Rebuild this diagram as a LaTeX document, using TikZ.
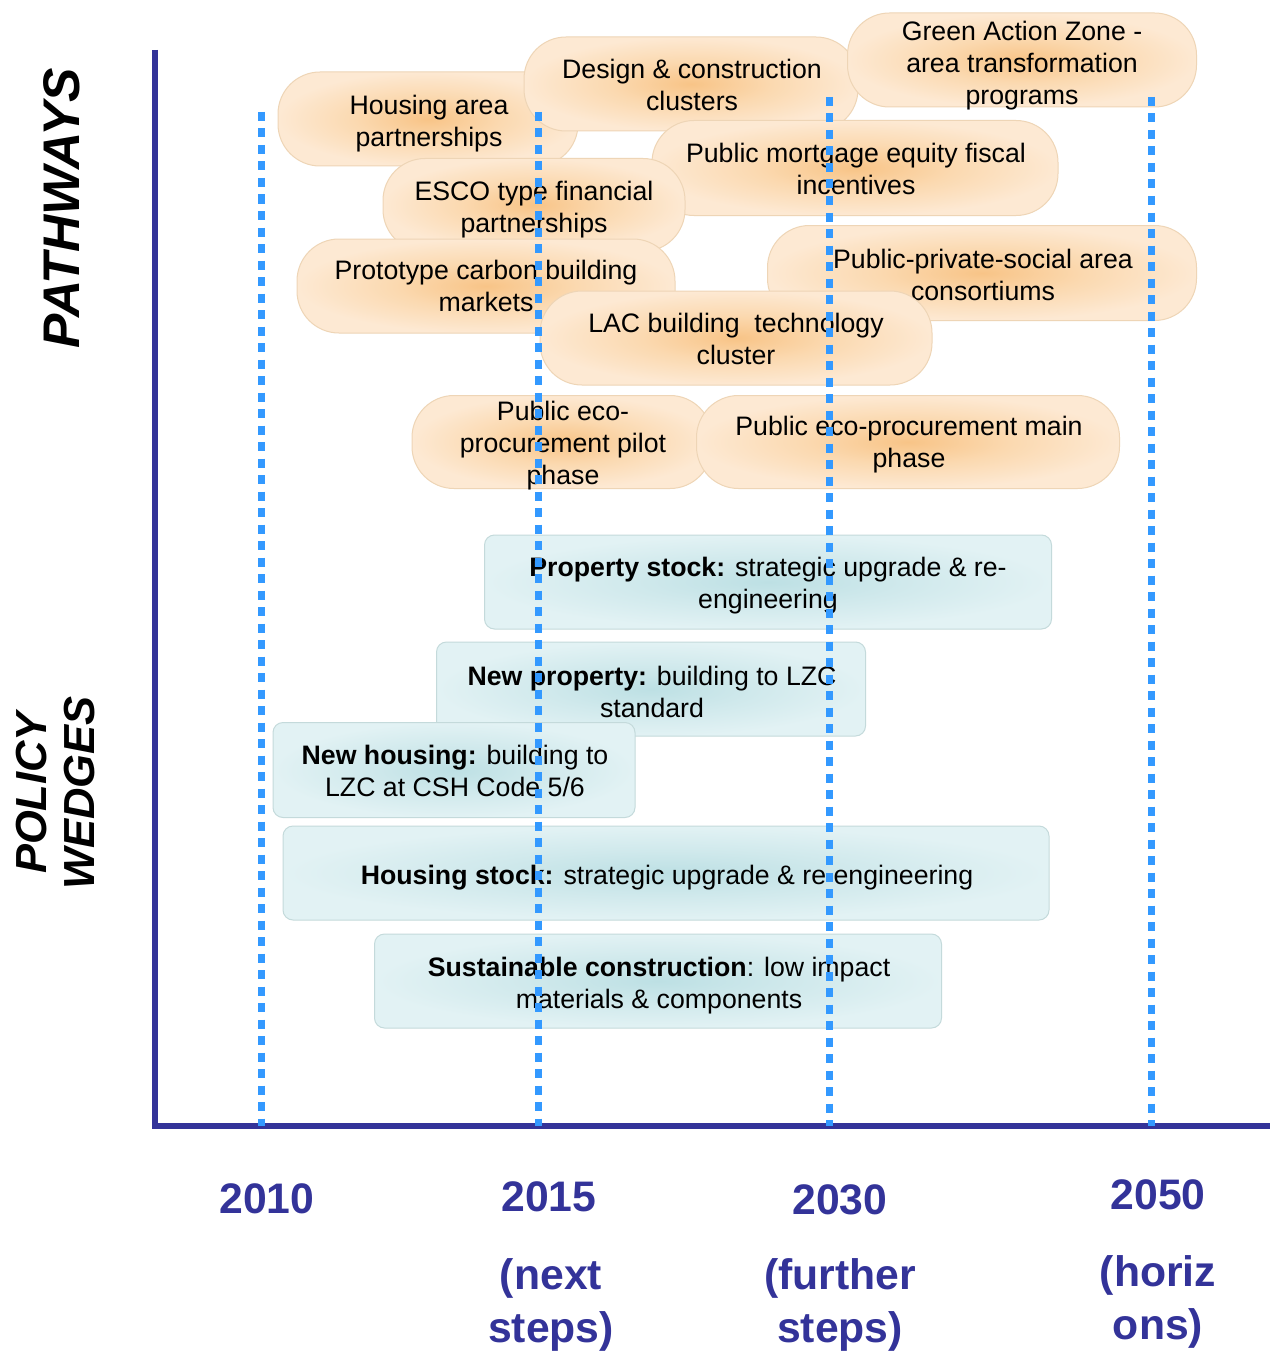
\documentclass[tikz,border=0pt]{standalone}
\usepackage{fontspec}
\setmainfont{Liberation Sans}
\definecolor{axisblue}{HTML}{333399}
\definecolor{dotblue}{HTML}{3399FF}
\definecolor{pin}{HTML}{F8C487}
\definecolor{pmid}{HTML}{FBD9B0}
\definecolor{pout}{HTML}{FDE9D3}
\definecolor{pline}{HTML}{EED5B6}
\definecolor{bin}{HTML}{BDE0E4}
\definecolor{bmid}{HTML}{D0E9EC}
\definecolor{bout}{HTML}{E2F2F4}
\definecolor{bline}{HTML}{C4DADB}
\pgfdeclareradialshading{peach}{\pgfpoint{0bp}{0bp}}{color(0bp)=(pin); color(12bp)=(pmid); color(25bp)=(pout); color(50bp)=(pout)}
\pgfdeclareradialshading{teal}{\pgfpoint{0bp}{0bp}}{color(0bp)=(bin); color(12bp)=(bmid); color(25bp)=(bout); color(50bp)=(bout)}
\tikzset{
  pathbox/.style={rectangle, rounded corners=42pt, shading=peach, draw=pline, line width=1pt, inner sep=0pt},
  wedgebox/.style={rectangle, rounded corners=10pt, shading=teal, draw=bline, line width=1pt, inner sep=0pt},
  boxtext/.style={align=center, inner sep=0pt, font=\fontsize{26.7}{32}\selectfont},
  dotline/.style={dotblue, line width=7pt, dash pattern=on 9pt off 7.5pt},
  axisline/.style={axisblue, line width=6pt},
  yearlab/.style={axisblue, font=\fontsize{42.7}{53}\selectfont\bfseries, align=center},
  sidelab/.style={rotate=90, align=center, black},
}
\begin{document}
\begin{tikzpicture}[x=1pt, y=-1pt]
\useasboundingbox[fill=white] (0,0) rectangle (1270,1351);

% axes
\coordinate (ytop) at (155,50);
\coordinate (origin) at (155,1126);
\coordinate (xend) at (1270,1126);
\draw[axisline] (ytop) -- (origin) -- (xend);

% pathways
\node[pathbox, minimum width=300pt, minimum height=94pt] (hap) at (428,119) {};
\node[boxtext] (hapt) at (429,124) {Housing area\\partnerships};
\node[pathbox, minimum width=334pt, minimum height=94pt] (dcc) at (691,84) {};
\node[boxtext] (dcct) at (692,85) {Design \& construction\\clusters};
\node[pathbox, minimum width=349pt, minimum height=94pt] (gaz) at (1022,60) {};
\node[boxtext] (gazt) at (1022,66) {Green Action Zone -\\area transformation\\programs};
\node[pathbox, minimum width=406pt, minimum height=95pt] (pme) at (855,168) {};
\node[boxtext] (pmet) at (856,169) {Public mortgage equity fiscal\\incentives};
\node[pathbox, minimum width=302pt, minimum height=93pt] (esco) at (534,205) {};
\node[boxtext] (escot) at (534,210) {ESCO type financial\\partnerships};
\node[pathbox, minimum width=378pt, minimum height=94pt] (pcb) at (486,286) {};
\node[boxtext] (pcbt) at (486,286) {Prototype carbon building\\markets};
\node[pathbox, minimum width=429pt, minimum height=95pt] (pps) at (982,273) {};
\node[boxtext] (ppst) at (983,275) {Public-private-social area\\consortiums};
\node[pathbox, minimum width=392pt, minimum height=94pt] (lac) at (736,338) {};
\node[boxtext] (lact) at (736,339) {LAC building\ \ technology\\cluster};
\node[pathbox, minimum width=300pt, minimum height=93pt] (pep) at (562,442) {};
\node[boxtext] (pept) at (563,446) {Public eco-\\procurement pilot\\phase};
\node[pathbox, minimum width=423pt, minimum height=93pt] (pem) at (908,442) {};
\node[boxtext] (pemt) at (909,445) {Public eco-procurement main\\phase};

% policy wedges
\node[wedgebox, minimum width=567pt, minimum height=94pt] (ps) at (768,582) {};
\node[boxtext] (pst) at (768,586) {\textbf{Property stock:} strategic upgrade \& re-\\engineering};
\node[wedgebox, minimum width=429pt, minimum height=94pt] (np) at (651,689) {};
\node[boxtext] (npt) at (652,692) {\textbf{New property:} building to LZC\\standard};
\node[wedgebox, minimum width=362pt, minimum height=95pt] (nh) at (454,770) {};
\node[boxtext] (nht) at (455,771) {\textbf{New housing:} building to\\LZC at CSH Code 5/6};
\node[wedgebox, minimum width=766pt, minimum height=94pt] (hs) at (666,873) {};
\node[boxtext] (hst) at (667,878) {\textbf{Housing stock:} strategic upgrade \& re engineering};
\node[wedgebox, minimum width=567pt, minimum height=94pt] (sc) at (658,981) {};
\node[boxtext] (sct) at (659,986) {\textbf{Sustainable construction}: low impact\\materials \& components};

% time lines
\coordinate (t2010) at (261,112); \coordinate (b2010) at (261,1126);
\coordinate (t2015) at (538,112); \coordinate (b2015) at (538,1126);
\coordinate (t2030) at (829,97);  \coordinate (b2030) at (829,1126);
\coordinate (t2050) at (1151,97); \coordinate (b2050) at (1151,1126);
\draw[dotline] (t2010) -- (b2010);
\draw[dotline] (t2015) -- (b2015);
\draw[dotline] (t2030) -- (b2030);
\draw[dotline] (t2050) -- (b2050);

% year labels
\node[yearlab] (y2010) at (267,1199) {2010};
\node[yearlab] (y2015) at (549,1197) {2015};
\node[yearlab] (y2030) at (840,1200) {2030};
\node[yearlab] (y2050) at (1158,1195) {2050};
\node[yearlab] (n2015) at (551,1305) {(next\\steps)};
\node[yearlab] (n2030) at (840,1305) {(further\\steps)};
\node[yearlab] (n2050) at (1158,1302) {(horiz\\ons)};

% side labels
\node[sidelab, font=\fontsize{51.5}{51.5}\selectfont\bfseries\itshape] (pathw) at (62,208) {PATHWAYS};
\node[sidelab, font=\fontsize{43.5}{48}\selectfont\bfseries\itshape] (polw) at (56,793) {POLICY\\WEDGES};
\end{tikzpicture}
\end{document}
